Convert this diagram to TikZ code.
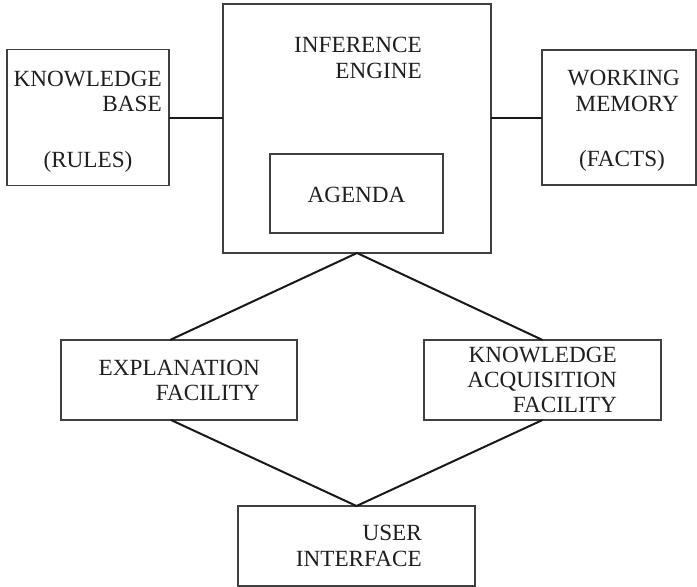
\documentclass[tikz,border=0pt]{standalone}
\usepackage{fontspec}
\setmainfont{Liberation Serif}
\begin{document}
\begin{tikzpicture}[x=1pt,y=-1pt,
  box/.style={draw=black!75, line width=1.1pt, rectangle, inner sep=0pt, outer sep=0pt},
  lbl/.style={inner sep=0pt, text=black!88, font=\fontsize{23.2}{25}\selectfont},
  link/.style={draw=black!90, line width=2pt}]
  \useasboundingbox (0,0) rectangle (697,587);

  % component boxes
  \node[box, minimum width=162pt, minimum height=136pt] (kb) at (88,117.5) {};
  \node[box, minimum width=268pt, minimum height=249pt] (ie) at (357,128.5) {};
  \node[box, minimum width=173pt, minimum height=79pt]  (ag) at (356.5,193.5) {};
  \node[box, minimum width=154pt, minimum height=135pt] (wm) at (619,117.5) {};
  \node[box, minimum width=236pt, minimum height=80pt]  (ex) at (179,380) {};
  \node[box, minimum width=237pt, minimum height=80pt]  (ka) at (542.5,380) {};
  \node[box, minimum width=237pt, minimum height=80pt]  (ui) at (356.5,546) {};

  % labels
  \node[lbl, anchor=base east] (kb1) at (162,86) {KNOWLEDGE};
  \node[lbl, anchor=base east] (kb2) at (162,111) {BASE};
  \node[lbl, anchor=base] (kb3) at (88,167) {(RULES)};

  \node[lbl, anchor=base east] (ie1) at (422,52) {INFERENCE};
  \node[lbl, anchor=base east] (ie2) at (422,78) {ENGINE};
  \node[lbl, anchor=base] (ag1) at (356.5,202) {AGENDA};

  \node[lbl, anchor=base east] (wm1) at (680,85) {WORKING};
  \node[lbl, anchor=base east] (wm2) at (679,111) {MEMORY};
  \node[lbl, anchor=base] (wm3) at (622,166) {(FACTS)};

  \node[lbl, anchor=base east] (ex1) at (260,375) {EXPLANATION};
  \node[lbl, anchor=base east] (ex2) at (260,400) {FACILITY};

  \node[lbl, anchor=base east] (ka1) at (617,362) {KNOWLEDGE};
  \node[lbl, anchor=base east] (ka2) at (617,387) {ACQUISITION};
  \node[lbl, anchor=base east] (ka3) at (617,412) {FACILITY};

  \node[lbl, anchor=base east] (ui1) at (422,540) {USER};
  \node[lbl, anchor=base east] (ui2) at (422,566) {INTERFACE};

  % connectors
  \draw[link] (kb.east) -- (kb.east -| ie.west);
  \draw[link] (ie.east |- wm.west) -- (wm.west);
  \draw[link] (ex.north) ++(-9,0) -- (ie.south) -- (ka.north);
  \draw[link] (ex.south) ++(-8,0) -- (ui.north) -- (ka.south);
\end{tikzpicture}
\end{document}
